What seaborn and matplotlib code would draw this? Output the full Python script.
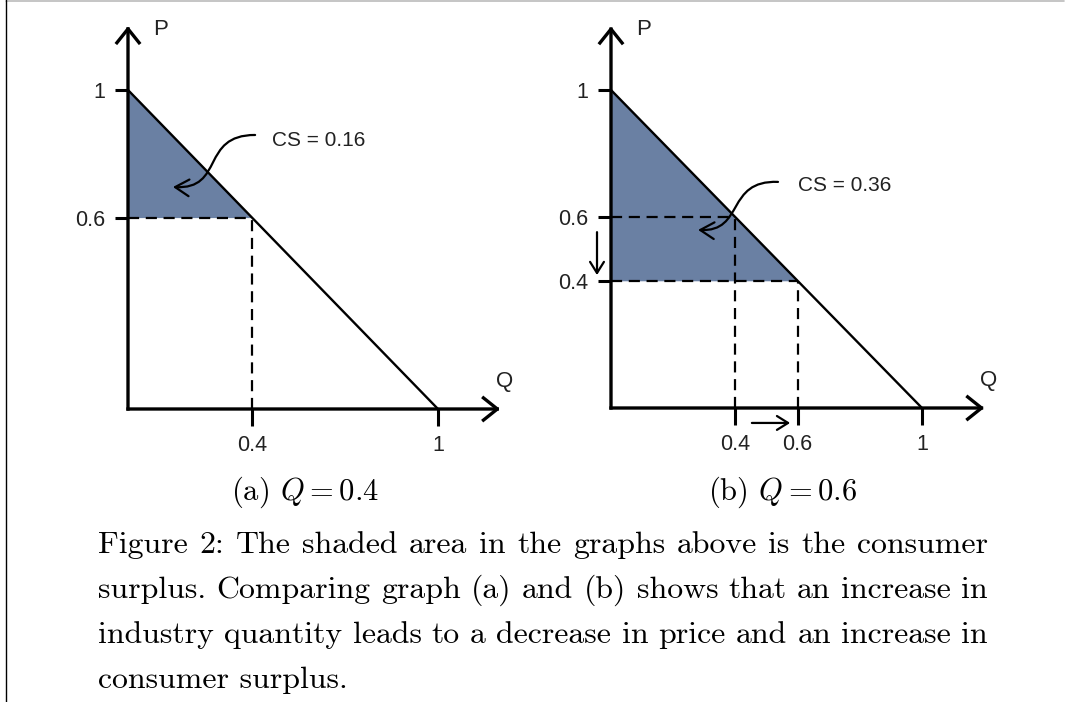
import numpy as np
import matplotlib
matplotlib.use("Agg")
import matplotlib.pyplot as plt
import seaborn as sns
from matplotlib.path import Path
from matplotlib.patches import FancyArrowPatch
from matplotlib.lines import Line2D

sns.set_theme(style="white")
plt.rcParams['font.family'] = ['Liberation Sans', 'DejaVu Sans']
plt.rcParams['mathtext.fontset'] = 'cm'

# demand curve P = 1 - Q
demand_q = [0, 1]
demand_p = [1, 0]

# equilibrium points shown in each panel
panel_a_q = [0.4]
panel_a_p = [0.6]
panel_b_q = [0.4, 0.6]
panel_b_p = [0.6, 0.4]
cs_values = [0.16, 0.36]

xticks_a = [0.4, 1]
xlabels_a = ["0.4", "1"]
yticks_a = [0.6, 1]
ylabels_a = ["0.6", "1"]
xticks_b = [0.4, 0.6, 1]
xlabels_b = ["0.4", "0.6", "1"]
yticks_b = [0.4, 0.6, 1]
ylabels_b = ["0.4", "0.6", "1"]

subcaptions = [r"(a) $Q = 0.4$", r"(b) $Q = 0.6$"]
caption_lines = [
    "Figure 2:  The shaded area in the graphs above is the consumer",
    "surplus.  Comparing graph (a) and (b) shows that an increase in",
    "industry quantity leads to a decrease in price and an increase in",
    "consumer surplus.",
]

W, H = 1066, 702
fill_col = "#6a80a3"
fig = plt.figure(figsize=(W / 100, H / 100), dpi=100)


def panel_axes(ox, oy, ux, uy):
    x0, x1, y0, y1 = -0.3, 1.3, -0.25, 1.3
    ax = fig.add_axes([(ox + x0 * ux) / W, (H - (oy - y0 * uy)) / H,
                       (x1 - x0) * ux / W, (y1 - y0) * uy / H])
    ax.set_xlim(x0, x1)
    ax.set_ylim(y0, y1)
    ax.patch.set_visible(False)
    for s in ax.spines.values():
        s.set_visible(False)
    ax.spines['left'].set_position(('data', 0))
    ax.spines['bottom'].set_position(('data', 0))
    return ax


def draw_panel(ax, qs, ps, cs, xt, xl, yt, yl, cs_xy, curve):
    # shaded consumer surplus, using the last point
    q, p = qs[-1], ps[-1]
    fq = np.array([0, q])
    ax.fill_between(fq, np.full(2, p), np.interp(fq, demand_q, demand_p),
                    color=fill_col, lw=0, zorder=1)
    sns.lineplot(x=demand_q, y=demand_p, color="black", lw=1.7, ax=ax, zorder=3)
    for qq, pp in zip(qs, ps):
        ax.plot([0, qq], [pp, pp], color="black", lw=1.6, dashes=(5, 3), zorder=2)
        ax.plot([qq, qq], [0, pp], color="black", lw=1.6, dashes=(5, 3), zorder=2)
    # axes with arrows
    for end in [(1.2, 0), (0, 1.2)]:
        ax.annotate("", xy=end, xytext=(0, 0),
                    arrowprops=dict(arrowstyle="->,head_length=0.5,head_width=0.4",
                                    lw=2.4, color="black", shrinkA=0, shrinkB=0,
                                    mutation_scale=20, capstyle="projecting"),
                    zorder=4)
    ax.set_xticks(xt, xl)
    ax.set_yticks(yt, yl)
    ax.tick_params(axis="x", bottom=True, direction="out", length=12, width=2.2,
                   pad=7, labelsize=15.5, color="black", labelcolor="#222222")
    ax.tick_params(axis="y", left=True, direction="out", length=9.5, width=2.2,
                   pad=7, labelsize=15.5, color="black", labelcolor="#222222")
    ax.text(0.08, 1.19, "P", fontsize=16, ha="left", va="center", color="#222222")
    ax.text(1.215, 0.085, "Q", fontsize=16, ha="center", va="center", color="#222222")
    ax.text(cs_xy[0], cs_xy[1], f"CS = {cs:.2f}", fontsize=15, ha="left",
            va="center", color="#222222")
    path = Path(curve, [Path.MOVETO, Path.CURVE4, Path.CURVE4, Path.CURVE4])
    ax.add_patch(FancyArrowPatch(path=path, arrowstyle="->,head_length=0.5,head_width=0.3",
                                 mutation_scale=20, lw=1.6, color="black", zorder=5))


ax_a = panel_axes(128, 409, 310, 319)
draw_panel(ax_a, panel_a_q, panel_a_p, cs_values[0], xticks_a, xlabels_a,
           yticks_a, ylabels_a, (0.465, 0.843),
           [(0.41, 0.859), (0.232, 0.859), (0.313, 0.687), (0.145, 0.696)])

ax_b = panel_axes(611, 408, 311, 318)
draw_panel(ax_b, panel_b_q, panel_b_p, cs_values[1], xticks_b, xlabels_b,
           yticks_b, ylabels_b, (0.601, 0.701),
           [(0.537, 0.711), (0.367, 0.717), (0.431, 0.553), (0.280, 0.560)])

# shift arrows: price falls, quantity rises
small = dict(arrowstyle="->,head_length=0.4,head_width=0.25", lw=1.6,
             color="black", shrinkA=0, shrinkB=0, mutation_scale=20)
ax_b.annotate("", xy=(-0.045, panel_b_p[1] + 0.018), xytext=(-0.045, panel_b_p[0] - 0.047),
              arrowprops=small, annotation_clip=False)
ax_b.annotate("", xy=(panel_b_q[1] - 0.024, -0.047), xytext=(panel_b_q[0] + 0.053, -0.047),
              arrowprops=small, annotation_clip=False)

# sub captions
for x, s in zip([305, 783], subcaptions):
    fig.text(x / W, 1 - 500 / H, s, ha="center", fontsize=22, family="cmr10",
             color="black", va="baseline")

# main caption: fit first line to the text block width, justify like LaTeX
renderer = fig.canvas.get_renderer()
left, right = 98, 988
probe = fig.text(0, 0, caption_lines[0], fontsize=22, family="cmr10")
fs = 22 * (right - left) / probe.get_window_extent(renderer).width
probe.remove()
cap_font = dict(fontsize=fs, family="cmr10", color="black", va="baseline")
baselines = [553, 598, 643, 688]
for i, line in enumerate(caption_lines):
    y = 1 - baselines[i] / H
    if i == len(caption_lines) - 1:
        fig.text(left / W, y, line, ha="left", **cap_font)
        continue
    words = line.split()
    objs = [fig.text(0, y, w_, ha="left", **cap_font) for w_ in words]
    widths = [o.get_window_extent(renderer).width for o in objs]
    gap = (right - left - sum(widths)) / (len(words) - 1)
    x = left
    for o, w_ in zip(objs, widths):
        o.set_x(x / W)
        x += w_ + gap

# page borders
fig.add_artist(Line2D([6 / W, 1064 / W], [1 - 1 / H, 1 - 1 / H], color="#bbbbbb", lw=1.2))
fig.add_artist(Line2D([6 / W, 6 / W], [0, 1], color="black", lw=1.0))

fig.savefig("out.png", dpi=100)
